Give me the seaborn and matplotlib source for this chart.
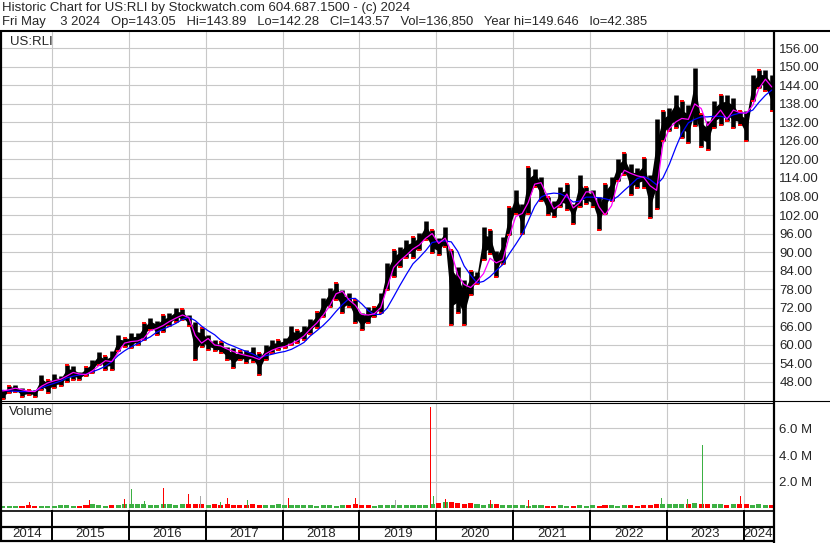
import numpy as np
import pandas as pd
import matplotlib
matplotlib.use("Agg")
import matplotlib.pyplot as plt
import seaborn as sns
from matplotlib.lines import Line2D

sns.set_style("white")
plt.rcParams['font.family'] = ['Liberation Sans', 'DejaVu Sans']

# ---------------- data (monthly samples) ----------------
start_month = "2014-05-01"
n_months = 121

high = [45.4, 46.7, 47.0, 45.9, 45.4, 45.4, 50.2, 48.6, 50.5, 49.7,
        53.5, 53.2, 51.3, 52.9, 55.1, 57.5, 56.2, 58.0, 63.2, 62.1,
        63.7, 63.7, 67.0, 68.6, 67.8, 69.6, 70.2, 71.8, 71.5, 69.6,
        67.5, 65.3, 63.2, 61.5, 61.0, 59.4, 58.8, 57.8, 58.3, 59.4,
        57.2, 59.9, 61.5, 61.5, 62.1, 65.9, 64.8, 65.9, 68.2, 70.7,
        75.0, 78.2, 80.1, 77.7, 76.6, 74.5, 70.1, 72.3, 72.3, 76.6,
        86.3, 90.7, 91.7, 93.9, 95.0, 96.1, 100.2, 97.1, 94.4, 98.2,
        90.7, 85.3, 81.0, 84.0, 83.5, 98.1, 97.0, 90.5, 94.8, 104.6,
        110.0, 105.6, 117.5, 117.0, 114.3, 107.8, 106.7, 111.0, 112.1, 105.6,
        115.0, 111.0, 110.0, 107.8, 112.1, 114.3, 120.0, 122.1, 118.4, 117.3,
        120.5, 115.1, 133.0, 135.6, 136.7, 141.0, 138.9, 137.8, 149.6, 134.6,
        132.4, 138.9, 141.0, 141.0, 140.0, 135.6, 135.6, 147.5, 149.1, 149.1,
        147.5]
low = [42.4, 44.3, 44.8, 43.0, 43.8, 43.2, 45.4, 44.3, 45.9, 46.5,
       48.0, 48.6, 48.6, 49.7, 50.8, 53.5, 51.9, 51.7, 57.8, 59.4,
       58.9, 60.0, 61.6, 64.8, 63.0, 64.2, 65.9, 67.5, 68.0, 65.9,
       55.1, 59.4, 58.3, 57.8, 57.2, 55.1, 52.4, 55.1, 54.0, 54.5,
       50.2, 55.1, 57.2, 58.3, 58.8, 59.9, 60.5, 61.5, 63.5, 65.3,
       69.1, 72.3, 74.5, 70.1, 72.3, 66.9, 64.7, 66.9, 69.1, 70.1,
       77.7, 82.0, 85.3, 88.0, 88.0, 90.7, 93.9, 89.6, 89.0, 91.7,
       66.4, 70.1, 66.4, 76.0, 79.7, 87.3, 89.4, 81.9, 86.2, 95.4,
       102.4, 95.9, 102.4, 111.0, 106.7, 101.9, 101.3, 104.6, 103.5, 99.2,
       104.6, 105.6, 104.6, 97.0, 102.4, 106.7, 113.0, 115.1, 108.6, 110.8,
       110.8, 101.1, 104.0, 125.9, 129.2, 130.2, 127.0, 125.4, 131.0, 124.0,
       123.2, 130.2, 131.3, 132.4, 130.2, 131.3, 125.9, 138.9, 143.2, 142.1,
       135.6]
ma_short = [45.0, 45.4, 45.9, 45.4, 44.9, 44.8, 46.5, 47.6, 48.3, 48.8,
            49.8, 51.0, 50.5, 50.3, 51.5, 53.2, 54.8, 54.5, 57.5, 60.5,
            61.0, 61.2, 62.0, 64.5, 65.2, 66.2, 67.5, 68.6, 69.6, 68.8,
            63.0, 60.5, 62.0, 59.9, 59.6, 58.6, 57.8, 57.0, 56.5, 56.0,
            55.2, 57.0, 58.2, 59.0, 59.4, 60.3, 61.3, 62.8, 65.0, 67.0,
            69.5, 72.5, 76.5, 77.3, 74.5, 72.8, 69.8, 69.6, 70.0, 72.0,
            78.5, 85.0, 87.2, 89.0, 91.0, 92.3, 94.5, 96.0, 92.8, 94.5,
            90.0, 82.5, 79.5, 78.5, 80.5, 83.0, 88.0, 86.5, 87.5, 95.0,
            101.5, 102.5, 106.0, 112.0, 112.5, 108.0, 104.0, 105.5, 108.8, 104.3,
            106.0, 109.5, 109.5, 104.6, 102.0, 105.0, 112.5, 116.5, 115.5, 114.7,
            114.2, 111.5, 110.0, 125.0, 130.0, 132.2, 133.3, 133.0, 138.0, 136.5,
            131.0, 133.5, 136.0, 133.0, 136.0, 135.2, 135.0, 137.5, 143.0, 146.0,
            143.5]
ma_long = [45.2, 45.0, 44.9, 44.8, 44.8, 44.9, 46.0, 46.8, 47.5, 48.2,
           49.2, 49.8, 50.2, 50.4, 51.2, 52.0, 53.0, 54.5, 56.5, 58.0,
           59.3, 60.3, 61.5, 62.5, 64.0, 65.0, 65.9, 66.9, 68.2, 68.9,
           67.8, 66.0, 64.5, 63.2, 61.5, 60.3, 59.5, 58.6, 57.8, 57.0,
           55.8, 56.4, 56.9, 57.4, 57.8, 58.5, 59.5, 60.7, 62.8, 64.5,
           66.2, 68.3, 70.8, 73.0, 74.9, 75.0, 73.2, 71.0, 69.8, 69.8,
           71.8, 75.5, 79.2, 82.8, 86.2, 88.2, 90.5, 93.1, 93.5, 93.6,
           93.3, 90.2, 85.5, 82.5, 80.0, 80.5, 82.0, 84.0, 86.0, 89.4,
           92.5, 95.8, 100.0, 104.8, 107.8, 108.8, 109.1, 108.9, 107.8, 106.2,
           106.5, 107.8, 107.8, 107.6, 107.3, 106.7, 108.0, 110.0, 111.8, 113.8,
           114.5, 113.5, 111.8, 114.0, 118.5, 124.0, 128.5, 131.9, 133.0, 133.8,
           133.8, 134.0, 134.0, 133.5, 134.5, 135.0, 135.1, 136.0, 138.5, 140.8,
           142.5]
volume = [0.15, 0.18, 0.20, 0.20, 0.25, 0.20, 0.18, 0.20,
          0.20, 0.22, 0.25, 0.20, 0.20, 0.22, 0.30, 0.25, 0.20, 0.22, 0.25, 0.30,
          0.35, 0.30, 0.30, 0.28, 0.25, 0.35, 0.30, 0.25, 0.30, 0.35, 0.30, 0.30,
          0.28, 0.30, 0.25, 0.30, 0.25, 0.22, 0.25, 0.30, 0.25, 0.22, 0.25, 0.30,
          0.25, 0.28, 0.22, 0.25, 0.22, 0.20, 0.22, 0.25, 0.20, 0.22, 0.25, 0.30,
          0.25, 0.22, 0.20, 0.25, 0.25, 0.22, 0.25, 0.28, 0.25, 0.22, 0.25, 0.35,
          0.40, 0.45, 0.50, 0.40, 0.35, 0.40, 0.30, 0.28, 0.35, 0.30, 0.28, 0.25,
          0.25, 0.22, 0.20, 0.22, 0.25, 0.20, 0.20, 0.22, 0.20, 0.20, 0.22, 0.20,
          0.22, 0.20, 0.25, 0.22, 0.20, 0.22, 0.25, 0.20, 0.25, 0.28, 0.30, 0.35,
          0.30, 0.32, 0.35, 0.30, 0.40, 0.35, 0.30, 0.32, 0.30, 0.28, 0.30, 0.35,
          0.30, 0.28, 0.30, 0.25, 0.22]
spike_dates = ["2014-09-15", "2015-06-28", "2015-12-10", "2016-01-15", "2016-03-18",
               "2016-06-15", "2016-10-10", "2016-12-08", "2017-03-10", "2017-04-15",
               "2017-07-18", "2018-01-28", "2018-12-15", "2019-06-20", "2019-12-06",
               "2019-12-20", "2020-02-15", "2020-09-15", "2021-03-15", "2022-12-05",
               "2023-04-10", "2023-06-16", "2023-12-15"]
spike_vol = [0.46, 0.64, 0.70, 1.45, 0.56, 1.50, 1.10, 0.90, 0.50, 0.75,
             0.60, 0.75, 0.75, 0.60, 7.60, 0.90, 0.70, 0.60, 0.60, 0.80,
             0.70, 4.75, 0.90]
spike_dir = ["down", "down", "down", "up", "up", "down", "down", "flat", "up", "down",
             "up", "down", "down", "flat", "down", "up", "down", "down", "down", "up",
             "up", "up", "down"]
year_ticks = list(range(2015, 2025))
price_ticks = list(range(48, 157, 6))
vol_ticks = [2.0, 4.0, 6.0]

header1 = "Historic Chart for US:RLI by Stockwatch.com 604.687.1500 - (c) 2024"
header2 = ("Fri May    3 2024   Op=143.05   Hi=143.89   Lo=142.28   Cl=143.57   "
           "Vol=136,850   Year hi=149.646   lo=42.385")

# ---------------- build frames ----------------
dates = pd.date_range(start_month, periods=n_months, freq="MS") + pd.Timedelta(days=11)
df = pd.DataFrame({"date": dates, "high": high, "low": low,
                   "ma_short": ma_short, "ma_long": ma_long,
                   "volume": np.array(volume) * 1e6})
rng_ = df["high"] - df["low"]
df["core_lo"] = df["low"] + 0.25 * rng_
df["core_hi"] = df["high"] - 0.25 * rng_
chg = np.diff(np.r_[ma_short[0], ma_short])
df["vcolor"] = np.where(chg >= 0, "#3cb043", "#ff0000")
sp = pd.DataFrame({"date": pd.to_datetime(spike_dates),
                   "volume": np.array(spike_vol) * 1e6,
                   "dir": spike_dir})
cmap = {"up": "#3cb043", "down": "#ff0000", "flat": "#a8a8a8"}

W, H = 830, 543
fig = plt.figure(figsize=(W / 100, H / 100), dpi=100)


def rect(l, t, r, b):
    return [l / W, 1 - b / H, (r - l) / W, (b - t) / H]


def fline(x0, y0, x1, y1, lw=1.0, color="black"):
    fig.add_artist(Line2D([x0 / W, x1 / W], [1 - y0 / H, 1 - y1 / H],
                          transform=fig.transFigure, color=color, lw=lw,
                          solid_capstyle="butt"))


xlim = (pd.Timestamp("2014-05-09"), pd.Timestamp("2024-05-18"))
year_dates = [pd.Timestamp(f"{y}-01-01") for y in year_ticks]
grid_c = "#c8c8c8"

ax_p = fig.add_axes(rect(2, 32, 773, 400))
ax_v = fig.add_axes(rect(2, 403, 773, 510))
ax_y = fig.add_axes(rect(2, 510, 773, 541))

for ax in (ax_p, ax_v, ax_y):
    for s in ax.spines.values():
        s.set_visible(False)
    ax.set_xlim(*xlim)

# price panel
ax_p.set_ylim(42.07, 161.3)
ax_p.set_xticks(year_dates)
ax_p.set_yticks(price_ticks)
ax_p.grid(True, color=grid_c, lw=0.8)
ax_p.set_axisbelow(True)
ax_p.fill_between(df["date"], df["core_lo"], df["core_hi"], color="black", lw=0, zorder=2)
ax_p.vlines(df["date"], df["low"], df["high"], color="black", lw=3.3, zorder=2)
ax_p.scatter(df["date"], df["low"], marker="_", s=10, color="red", lw=1.4, zorder=3)
ax_p.scatter(df["date"][1::3], df["high"][1::3], marker="_", s=8, color="red", lw=1.4, zorder=3)
sns.lineplot(data=df, x="date", y="ma_long", color="#0000ff", lw=0.9, ax=ax_p, zorder=4)
sns.lineplot(data=df, x="date", y="ma_short", color="#ff00ff", lw=0.9, ax=ax_p, zorder=5)
ax_p.set_xlabel("")
ax_p.set_ylabel("")
ax_p.yaxis.tick_right()
ax_p.set_yticklabels([f"{v:.2f}" for v in price_ticks])
ax_p.tick_params(axis="y", length=0, pad=4.5, labelsize=9.5)
ax_p.tick_params(axis="x", length=0, labelbottom=False)
ax_p.text(0.011, 0.972, "US:RLI", transform=ax_p.transAxes, fontsize=9.5,
          va="center", ha="left")

# volume panel
ax_v.set_ylim(-0.12e6, 7.9e6)
ax_v.set_xticks(year_dates)
ax_v.set_yticks([v * 1e6 for v in vol_ticks])
ax_v.grid(True, color=grid_c, lw=0.8)
ax_v.set_axisbelow(True)
ax_v.bar(df["date"], df["volume"], width=24, color=df["vcolor"], lw=0, zorder=2)
ax_v.bar(sp["date"], sp["volume"], width=5, color=[cmap[d] for d in sp["dir"]],
         lw=0, zorder=3)
ax_v.yaxis.tick_right()
ax_v.set_yticklabels([f"{v:.1f} M" for v in vol_ticks])
ax_v.tick_params(axis="y", length=0, pad=4.5, labelsize=9.5)
ax_v.tick_params(axis="x", length=0, labelbottom=False)
ax_v.text(0.009, 0.92, "Volume", transform=ax_v.transAxes, fontsize=9.5,
          va="center", ha="left")

# year label band
ax_y.set_ylim(0, 1)
ax_y.set_xticks([])
ax_y.set_yticks([])
ax_y.vlines(year_dates, 0, 1, color="black", lw=1.4)
bounds = [xlim[0]] + year_dates + [xlim[1]]
labels = [2014] + year_ticks
for i, lab in enumerate(labels):
    a, b = bounds[i], bounds[i + 1]
    mid = a + (b - a) / 2
    ax_y.text(mid, 0.22, str(lab), ha="center", va="center", fontsize=9.5)

# frame lines
fline(0, 30.5, W, 30.5, lw=1.5)
fline(1, 30, 1, 541, lw=1.6)
fline(774, 30, 774, H, lw=1.6)
fline(0, 400.5, W, 400.5, lw=0.8)
fline(0, 402.5, 774, 402.5, lw=0.8)
fline(0, 510.5, 774, 510.5, lw=1.2)
fline(0, 526.8, 774, 526.8, lw=1.6)
fline(0, 541, 774, 541, lw=1.6)

# header
fig.text(2 / W, 1 - 8.5 / H, header1, fontsize=9.5, ha="left", va="center")
fig.text(2 / W, 1 - 22 / H, header2, fontsize=9.4, ha="left", va="center")

fig.savefig("out.png", dpi=100)
